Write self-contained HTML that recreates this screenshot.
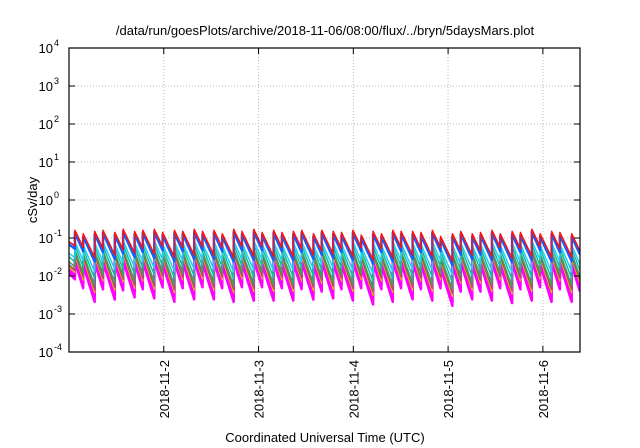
<!DOCTYPE html>
<html><head><meta charset="utf-8"><style>
html,body{margin:0;padding:0;background:#fff;}
svg{display:block;font-family:"Liberation Sans",sans-serif;}
</style></head><body>
<svg id="chart" width="640" height="448" viewBox="0 0 640 448" xmlns="http://www.w3.org/2000/svg">
<rect width="640" height="448" fill="#fff"/>
<text x="325" y="35" font-size="13" text-anchor="middle">/data/run/goesPlots/archive/2018-11-06/08:00/flux/../bryn/5daysMars.plot</text>
<text transform="translate(37,200) rotate(-90)" font-size="13" text-anchor="middle">cSv/day</text>
<text x="325" y="442" font-size="13" text-anchor="middle">Coordinated Universal Time (UTC)</text>
<g id="grid"></g>
<g id="series"></g>
<g id="axes"></g>
</svg>
<script>
const yExponents = [4,3,2,1,0,-1,-2,-3,-4];
const dayLabels = ["2018-11-2","2018-11-3","2018-11-4","2018-11-5","2018-11-6"];
const dayHours = [24,48,72,96,120];
const peakHours = [1.5,3.6,6.5,8.6,11.6,13.7,16.6,18.7,21.6,23.7,26.7,28.8,31.7,33.8,36.7,38.8,41.7,43.8,46.8,48.9,51.8,53.9,56.8,58.9,61.9,64.0,66.9,69.0,71.9,74.0,77.0,79.1,82.0,84.1,87.0,89.1,92.0,94.1,97.1,99.2,102.1,104.2,107.1,109.2,112.2,114.3,117.2,119.3,122.2,124.3,127.3];
const peakVals = [0.16,0.13,0.15,0.16,0.14,0.17,0.15,0.16,0.17,0.14,0.16,0.15,0.17,0.15,0.16,0.13,0.17,0.15,0.17,0.14,0.16,0.14,0.15,0.16,0.13,0.16,0.15,0.14,0.16,0.12,0.15,0.13,0.16,0.15,0.15,0.14,0.16,0.11,0.13,0.15,0.13,0.14,0.16,0.13,0.15,0.14,0.17,0.13,0.15,0.14,0.13];
const seriesNames = ["red","blue","cyan","teal","green","brown","yellow","magenta-1","magenta-2","magenta-3"];
const seriesScale = [1.0,0.85,0.5,0.4,0.3,0.25,0.22,0.22,0.18,0.15];
const seriesTau = [2.0,1.9,1.8,1.6,1.5,1.45,1.4,1.4,1.35,1.3];
const seriesColor = ["#ff1010","#1060ff","#20d0f0","#10c0a0","#40a060","#a05a50","#e0c000","#ff00ff","#ff00ff","#ff00ff"];
const seriesWidth = [1.5,2.5,1.5,1.5,1.5,1.5,1.2,2,2.5,2.5];

const X0=69,X1=580,Y0=48,Y1=352,H_END=129.4,E_TOP=4,E_BOT=-4;
const NS="http://www.w3.org/2000/svg";
function xs(h){return X0+(h/H_END)*(X1-X0);}
function ys(v){return Y0+(E_TOP-Math.log10(v))/(E_TOP-E_BOT)*(Y1-Y0);}
function mk(tag,attrs,parent){const e=document.createElementNS(NS,tag);for(const k in attrs)e.setAttribute(k,attrs[k]);parent.appendChild(e);return e;}
const grid=document.getElementById('grid'),axes=document.getElementById('axes'),ser=document.getElementById('series');

yExponents.forEach(p=>{
  const y=ys(Math.pow(10,p));
  if(p<E_TOP&&p>E_BOT){const g=mk('line',{x1:X0,x2:X1,y1:y,y2:y,stroke:'#b8b8b8','stroke-dasharray':'1,2','stroke-width':1},grid);
  
  }
  mk('line',{x1:X0,x2:X0+6,y1:y,y2:y,stroke:'#000'},axes);
  mk('line',{x1:X1-6,x2:X1,y1:y,y2:y,stroke:'#000'},axes);
  const tx=mk('text',{x:X0-16,y:y+5,'font-size':13,'text-anchor':'end'},axes);
  
  
  tx.textContent='10';
  const sp=mk('text',{x:X0-15,y:y-2,'font-size':9,'text-anchor':'start'},axes);
  
  
  sp.textContent=String(p);
});
dayHours.forEach((h,i)=>{
  const x=xs(h);
  const g=mk('line',{x1:x,x2:x,y1:Y0,y2:Y1,stroke:'#b8b8b8','stroke-dasharray':'1,2','stroke-width':1},grid);
  
  
  mk('line',{x1:x,x2:x,y1:Y1,y2:Y1-6,stroke:'#000'},axes);
  mk('line',{x1:x,x2:x,y1:Y0,y2:Y0+6,stroke:'#000'},axes);
  const t=mk('text',{transform:`translate(${x+5},${Y1+8}) rotate(-90)`,'font-size':13,'text-anchor':'end'},axes);
  
  
  t.textContent=dayLabels[i];
});
const frame=mk('rect',{x:X0,y:Y0,width:X1-X0,height:Y1-Y0,fill:'none',stroke:'#000','stroke-width':1.2},axes);



const defs=mk('defs',{},document.getElementById('chart'));
const cp=mk('clipPath',{id:'clip'},defs);
mk('rect',{x:X0,y:Y0,width:X1-X0,height:Y1-Y0},cp);

for(let s=seriesNames.length-1;s>=0;s--){
  let d='';
  const tau=seriesTau[s],sc=seriesScale[s];
  const pre=peakVals[0]*0.5*sc;
  const steps=8;
  for(let k=0;k<=steps;k++){const h=peakHours[0]*k/steps;const v=pre*Math.exp(-h/(tau*3));d+=(k?'L':'M')+xs(h).toFixed(1)+','+ys(v).toFixed(1);}
  for(let i=0;i<peakHours.length;i++){
    const h0=peakHours[i],h1=i+1<peakHours.length?peakHours[i+1]:H_END;
    const p=peakVals[i]*sc;
    for(let k=0;k<=steps;k++){const h=h0+(h1-h0)*k/steps;const v=p*Math.exp(-(h-h0)/tau);d+='L'+xs(h).toFixed(1)+','+ys(v).toFixed(1);}
  }
  const path=mk('path',{d:d,fill:'none',stroke:seriesColor[s],'stroke-width':seriesWidth[s],'stroke-linejoin':'round','clip-path':'url(#clip)'},ser);
  
  
}
</script>
</body></html>
